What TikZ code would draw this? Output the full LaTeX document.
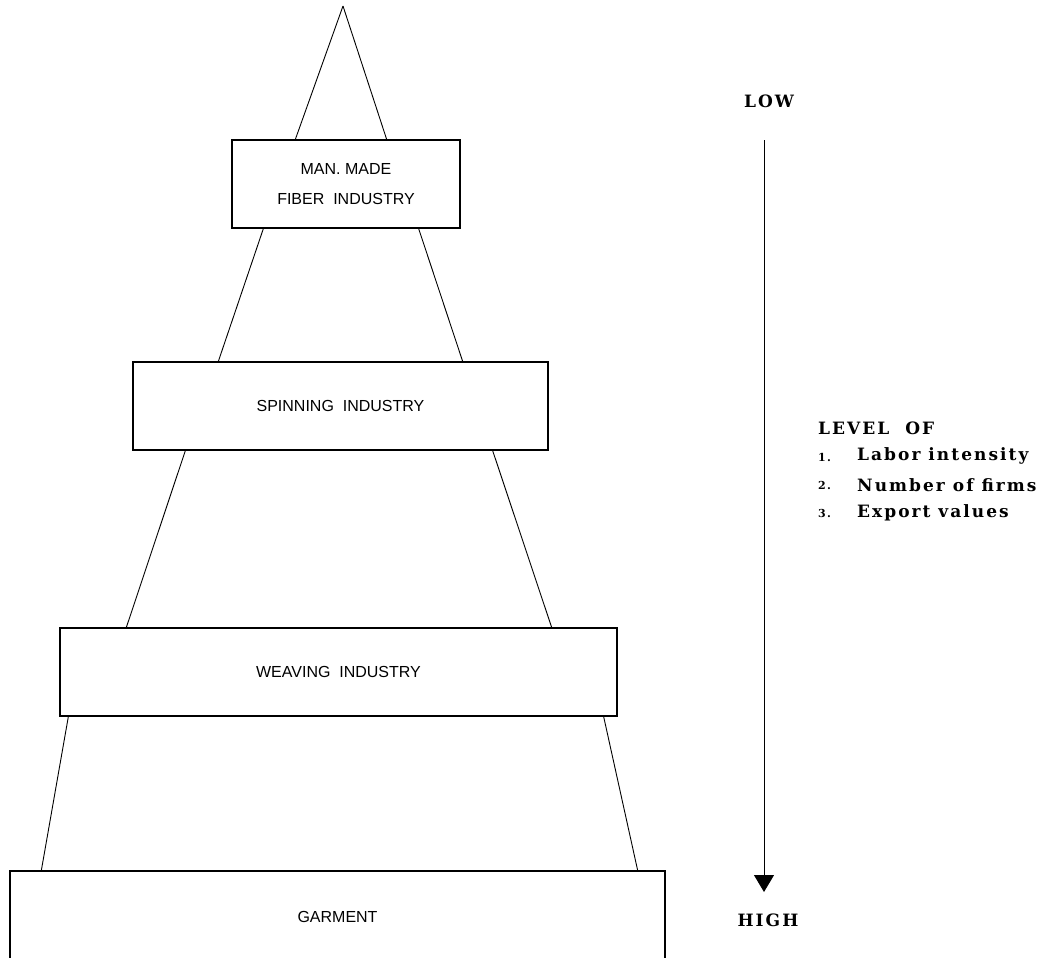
\documentclass[tikz,border=0pt]{standalone}
\usepackage{fontspec}
\setmainfont{Liberation Sans}
\newfontfamily\slabfont[LetterSpace=12]{DejaVu Serif}
\usetikzlibrary{arrows.meta}
\begin{document}
\begin{tikzpicture}[x=1pt,y=-1pt,
  tier/.style={draw,line width=1.3pt,minimum height=88pt,inner sep=0pt,font=\fontsize{16}{18}\selectfont},
  side/.style={line width=0.9pt},
  rlabel/.style={font=\slabfont\bfseries\fontsize{17}{19}\selectfont,inner sep=0pt},
  num/.style={font=\slabfont\bfseries\fontsize{11}{12}\selectfont,inner sep=0pt,anchor=west}]
\useasboundingbox (0,0) rectangle (1060,958);
% boxes
\node[tier,minimum width=228pt,align=center] (b1) at (346,184) {MAN. MADE\\[12pt]FIBER\ \ INDUSTRY};
\node[tier,minimum width=415pt] (b2) at (340.5,406) {SPINNING\ \ INDUSTRY};
\node[tier,minimum width=557pt] (b3) at (338.5,672) {WEAVING\ \ INDUSTRY};
\node[tier,minimum width=655pt,minimum height=92pt] (b4) at (337.5,917) {GARMENT};
\coordinate (apex) at (343,6);
% sides of the pyramid
\draw[side] (apex) -- ([xshift=64pt]b1.north west);
\draw[side] (apex) -- ([xshift=-74pt]b1.north east);
\draw[side] ([xshift=32pt]b1.south west) -- ([xshift=86pt]b2.north west);
\draw[side] ([xshift=-42pt]b1.south east) -- ([xshift=-86pt]b2.north east);
\draw[side] ([xshift=53pt]b2.south west) -- ([xshift=67pt]b3.north west);
\draw[side] ([xshift=-56pt]b2.south east) -- ([xshift=-66pt]b3.north east);
\draw[side] ([xshift=9pt]b3.south west) -- ([xshift=32pt]b4.north west);
\draw[side] ([xshift=-14pt]b3.south east) -- ([xshift=-28pt]b4.north east);
% scale arrow
\node[rlabel] (low) at (769,101) {LOW};
\node[rlabel] (high) at (768,920) {HIGH};
\coordinate (atop) at (764,140);
\coordinate (abot) at (764,892);
\draw[line width=1pt,-{Triangle[width=20pt,length=17pt]}] (atop) -- (abot);
% legend
\node[rlabel,anchor=west] (lvl) at (818,428) {LEVEL\ \ OF};
\node[num] (n1) at (818,457) {1.};
\node[rlabel,anchor=west] (t1) at (857,456) {Labor intensity};
\node[num] (n2) at (818,485) {2.};
\node[rlabel,anchor=west] (t2) at (857,485) {Number of firms};
\node[num] (n3) at (818,513) {3.};
\node[rlabel,anchor=west] (t3) at (857,513) {Export values};
\end{tikzpicture}
\end{document}
